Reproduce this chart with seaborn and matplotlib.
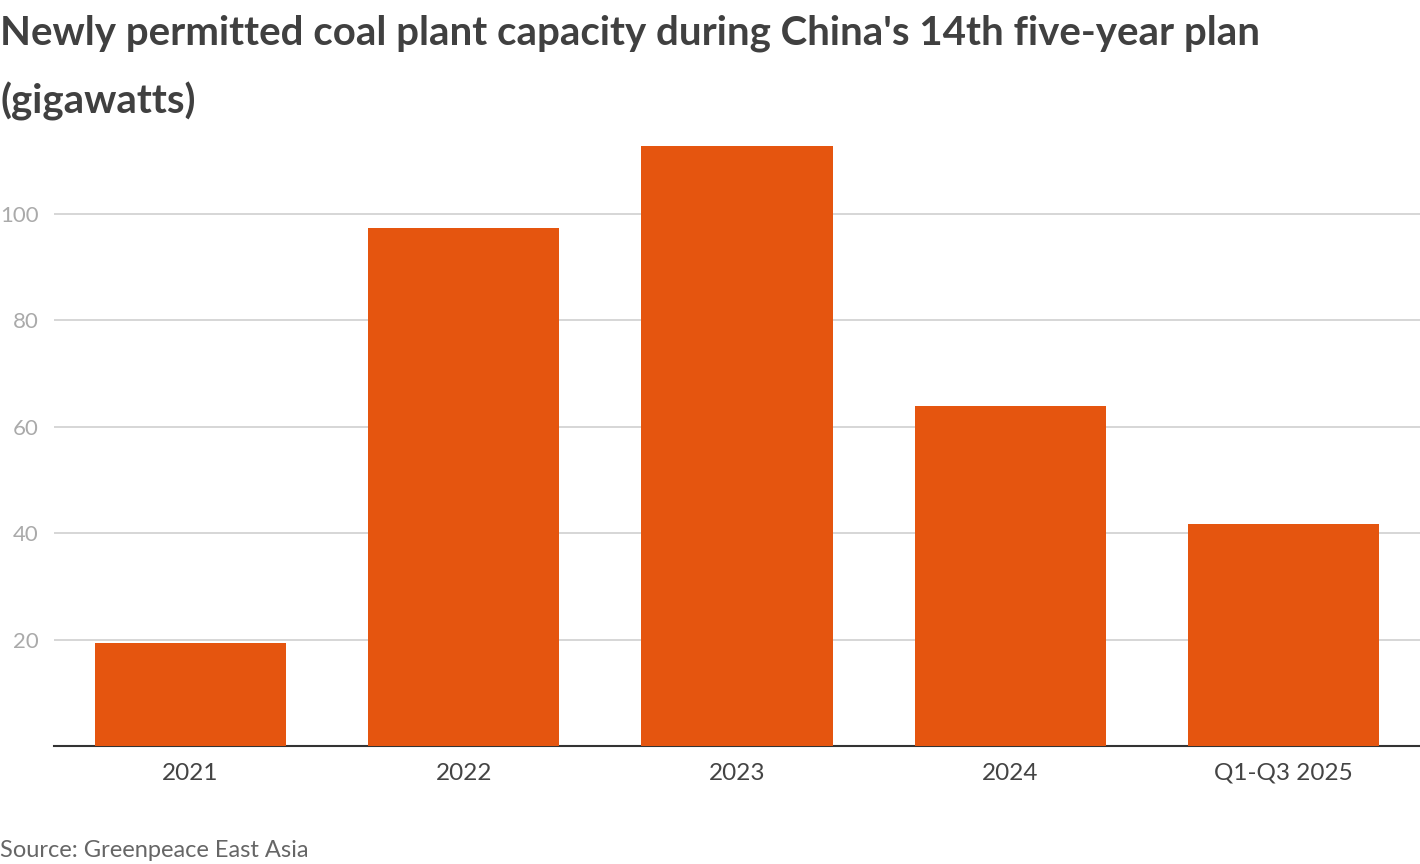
import matplotlib
matplotlib.use("Agg")
import matplotlib.pyplot as plt
import seaborn as sns
import pandas as pd

# Newly permitted coal capacity, GW
periods = ["2021", "2022", "2023", "2024", "Q1-Q3 2025"]
capacity_gw = [19.4, 97.4, 112.8, 63.9, 41.7]
y_ticks = [20, 40, 60, 80, 100]

sns.set_theme(style="white")
plt.rcParams["font.family"] = ["Lato", "DejaVu Sans"]

df = pd.DataFrame({"period": periods, "gw": capacity_gw})

fig = plt.figure(figsize=(14.2, 8.64), dpi=100)
ax = fig.add_axes([0.038, 0.1366, 0.962, 0.7268])

sns.barplot(data=df, x="period", y="gw", color="#E5550F", saturation=1,
            width=0.7, linewidth=0, edgecolor="none", ax=ax, zorder=3)

ax.set_xlim(-0.5, 4.5)
ax.set_ylim(0, 118)
ax.set_yticks(y_ticks)
ax.yaxis.grid(True, color="#cccccc", linewidth=1.1, zorder=0)
ax.set_axisbelow(True)
ax.set_xlabel("")
ax.set_ylabel("")
for side in ["top", "right", "left"]:
    ax.spines[side].set_visible(False)
ax.spines["bottom"].set_color("#333333")
ax.spines["bottom"].set_linewidth(1.5)
ax.tick_params(axis="y", length=0, pad=11, labelsize=16, labelcolor="#aaaaaa")
ax.tick_params(axis="x", length=0, pad=12, labelsize=17.5, labelcolor="#444444")

fig.text(0.0, 0.983, "Newly permitted coal plant capacity during China's 14th five-year plan\n(gigawatts)",
         ha="left", va="top", fontsize=29, fontweight="bold", color="#404040",
         linespacing=1.95)
fig.text(0.0, 0.003, "Source: Greenpeace East Asia", ha="left", va="bottom",
         fontsize=17, color="#666666")

fig.savefig("out.png", dpi=100)
